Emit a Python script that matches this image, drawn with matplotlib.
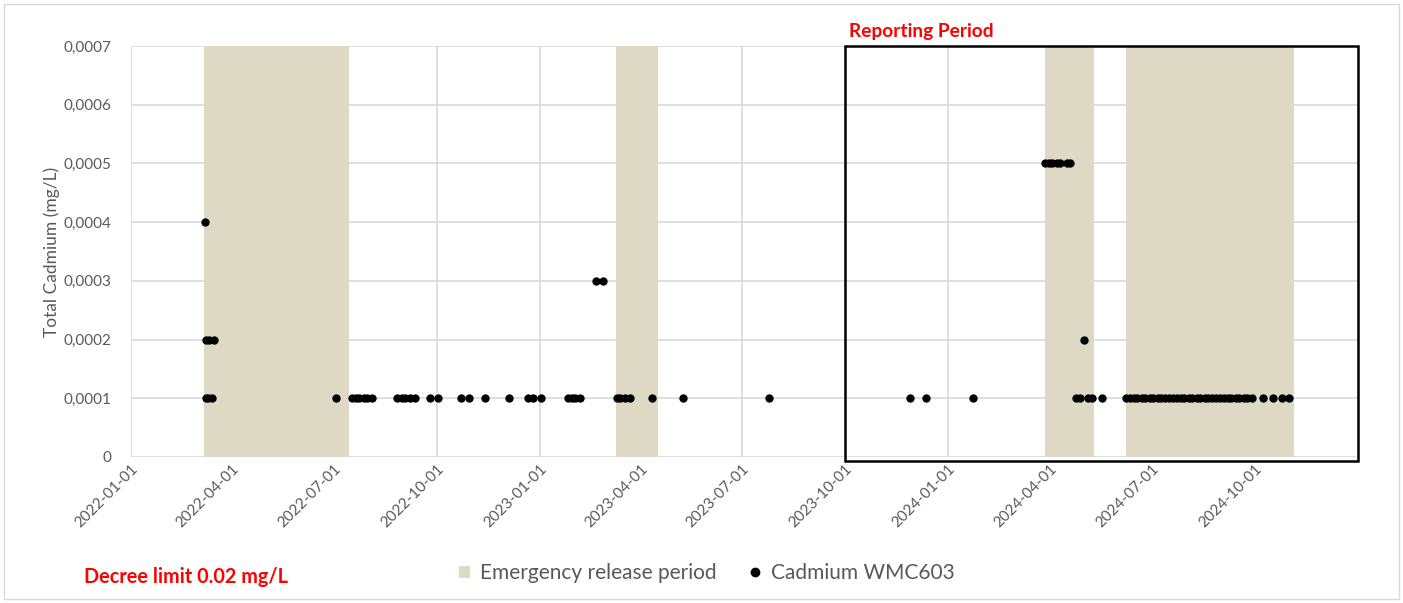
import matplotlib
matplotlib.use("Agg")
import matplotlib.pyplot as plt
import matplotlib.dates as mdates
import matplotlib.transforms as mtransforms
from matplotlib.patches import Rectangle, Patch
from matplotlib.lines import Line2D
import pandas as pd

plt.rcParams['font.family'] = ['Lato', 'DejaVu Sans']

# Emergency release periods (start, end)
emergency_starts = ["2022-03-07", "2023-03-10", "2024-03-27", "2024-06-08"]
emergency_ends = ["2022-07-15", "2023-04-17", "2024-05-10", "2024-11-05"]

# Cadmium samples
dates_0004 = ["2022-03-08"]
dates_0003 = ["2023-02-20", "2023-02-27"]
dates_0002 = ["2022-03-09", "2022-03-12", "2022-03-16", "2024-05-01"]
dates_0005 = ["2024-03-27", "2024-03-31", "2024-04-03", "2024-04-07",
              "2024-04-10", "2024-04-16", "2024-04-19"]
dates_0001 = [
    "2022-03-09", "2022-03-11", "2022-03-14", "2022-07-03",
    "2022-07-17", "2022-07-21", "2022-07-24", "2022-07-28", "2022-07-31", "2022-08-04",
    "2022-08-27", "2022-08-31", "2022-09-03", "2022-09-07", "2022-09-12",
    "2022-09-25", "2022-10-02", "2022-10-23", "2022-10-30", "2022-11-13",
    "2022-12-05", "2022-12-22", "2022-12-26", "2023-01-02",
    "2023-01-26", "2023-01-30", "2023-02-02", "2023-02-06",
    "2023-03-11", "2023-03-14", "2023-03-18", "2023-03-23",
    "2023-04-11", "2023-05-09", "2023-07-25",
    "2023-11-28", "2023-12-12", "2024-01-23",
    "2024-04-24", "2024-04-28", "2024-05-05", "2024-05-08", "2024-05-17",
    "2024-06-08", "2024-06-11", "2024-06-15", "2024-06-18", "2024-06-22",
    "2024-06-25", "2024-06-29", "2024-07-02", "2024-07-06", "2024-07-09",
    "2024-07-13", "2024-07-16", "2024-07-20", "2024-07-23", "2024-07-27",
    "2024-07-30", "2024-08-03", "2024-08-06", "2024-08-10", "2024-08-13",
    "2024-08-17", "2024-08-20", "2024-08-24", "2024-08-27", "2024-08-31",
    "2024-09-03", "2024-09-07", "2024-09-10", "2024-09-14", "2024-09-17",
    "2024-09-21", "2024-09-24", "2024-09-28",
    "2024-10-08", "2024-10-17", "2024-10-25", "2024-10-31",
]
values_by_group = [
    (dates_0001, 0.0001), (dates_0002, 0.0002), (dates_0003, 0.0003),
    (dates_0004, 0.0004), (dates_0005, 0.0005),
]

tick_dates = ["2022-01-01", "2022-04-01", "2022-07-01", "2022-10-01",
              "2023-01-01", "2023-04-01", "2023-07-01", "2023-10-01",
              "2024-01-01", "2024-04-01", "2024-07-01", "2024-10-01"]
y_ticks = [0, 0.0001, 0.0002, 0.0003, 0.0004, 0.0005, 0.0006, 0.0007]
y_tick_labels = ["0", "0,0001", "0,0002", "0,0003", "0,0004", "0,0005", "0,0006", "0,0007"]

x_min, x_max = "2022-01-01", "2025-01-01"
report_start = "2023-10-01"

gray_text = "#595959"
shade = "#ddd9c4"

fig = plt.figure(figsize=(14.03, 6.03), dpi=100)
ax = fig.add_axes([131 / 1403, 1 - 457 / 603, (1358 - 131) / 1403, (457 - 46) / 603])

xmin = mdates.date2num(pd.Timestamp(x_min))
xmax = mdates.date2num(pd.Timestamp(x_max))
ax.set_xlim(xmin, xmax)
ax.set_ylim(0, 0.0007)

for s, e in zip(emergency_starts, emergency_ends):
    ax.axvspan(pd.Timestamp(s), pd.Timestamp(e), color=shade, lw=0, zorder=1)

for ds, v in values_by_group:
    ax.scatter(pd.to_datetime(ds), [v] * len(ds), s=36, color="black", zorder=4,
               linewidths=0)

grid_x = [mdates.date2num(pd.Timestamp(d)) for d in tick_dates] + [xmax]
for gx in grid_x:
    ax.axvline(gx, color="#d9d9d9", lw=1.2, zorder=0)
for gy in y_ticks:
    ax.axhline(gy, color="#d9d9d9", lw=1.2, zorder=0)

ax.set_xticks([mdates.date2num(pd.Timestamp(d)) for d in tick_dates])
ax.set_xticklabels(tick_dates, rotation=45, ha="right", va="top",
                   rotation_mode="anchor", color=gray_text, fontsize=11)
offset = mtransforms.ScaledTranslation(10 / 100, -6 / 100, fig.dpi_scale_trans)
for lbl in ax.get_xticklabels():
    lbl.set_transform(lbl.get_transform() + offset)
ax.set_yticks(y_ticks)
ax.set_yticklabels(y_tick_labels, color=gray_text, fontsize=11)
ax.tick_params(axis="both", length=0)
ax.tick_params(axis="y", pad=14)
for sp in ax.spines.values():
    sp.set_visible(False)
ax.set_ylabel("Total Cadmium (mg/L)", color=gray_text, fontsize=12.5, labelpad=3)

# Reporting period box
rs = mdates.date2num(pd.Timestamp(report_start))
box = Rectangle((rs, -0.0000068), xmax - rs, 0.0007 + 0.0000068, fill=False,
                edgecolor="black", lw=1.8, zorder=5, clip_on=False)
ax.add_patch(box)
fig.text(849 / 1403, 1 - 31 / 603, "Reporting Period", color="red", fontweight="bold",
         fontsize=13.8, ha="left", va="center")

fig.text(84 / 1403, 1 - 577 / 603, "Decree limit 0.02 mg/L", color="red",
         fontweight="bold", fontsize=14.3, ha="left", va="center")

handles = [Patch(facecolor=shade, edgecolor="none", label="Emergency release period"),
           Line2D([], [], marker="o", color="black", linestyle="none", markersize=6,
                  label="Cadmium WMC603")]
leg = fig.legend(handles=handles, loc="center", bbox_to_anchor=(707 / 1403, 1 - 573 / 603),
                 ncol=2, frameon=False, fontsize=15, handlelength=0.5,
                 handleheight=0.5, columnspacing=1.6, handletextpad=0.5)
for t in leg.get_texts():
    t.set_color(gray_text)

fig.patches.append(Rectangle((4 / 1403, 4 / 603), 1 - 8 / 1403, 1 - 8 / 603,
                             transform=fig.transFigure, fill=False,
                             edgecolor="#d9d9d9", lw=1))

fig.savefig("out.png", dpi=100)
